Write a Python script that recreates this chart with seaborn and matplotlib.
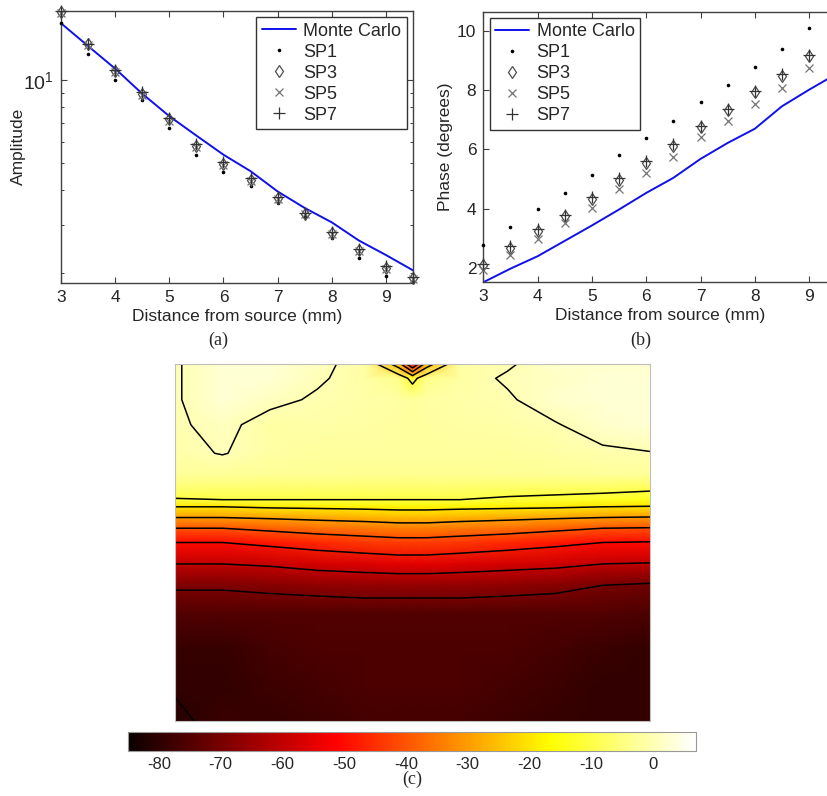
import numpy as np
import seaborn as sns
import matplotlib
matplotlib.use("Agg")
import matplotlib.pyplot as plt
from matplotlib.ticker import NullFormatter, LogLocator

# ------------------------------
# Data
# ------------------------------
distance = [3, 3.5, 4, 4.5, 5, 5.5, 6, 6.5, 7, 7.5, 8, 8.5, 9, 9.5]

# (a) amplitude
amp_mc = [16.11, 13.32, 11.03, 8.95, 7.42, 6.31, 5.38, 4.69, 3.96, 3.45, 3.06, 2.63, 2.33, 2.05]
amp_sp1 = [16.11, 12.43, 10.0, 8.48, 6.73, 5.38, 4.65, 4.13, 3.61, 3.22, 2.68, 2.27, 1.96, 1.86]
amp_sp3 = [17.70, 13.51, 10.81, 8.95, 7.22, 5.81, 4.99, 4.37, 3.75, 3.29, 2.80, 2.42, 2.09, 1.92]
amp_sp5 = [17.60, 13.40, 10.70, 8.85, 7.15, 5.75, 4.95, 4.33, 3.72, 3.27, 2.78, 2.40, 2.08, 1.91]
amp_sp7 = [17.80, 13.60, 10.90, 9.05, 7.30, 5.88, 5.05, 4.42, 3.79, 3.32, 2.83, 2.45, 2.12, 1.94]

# (b) phase (degrees)
ph_mc = [1.51, 1.97, 2.39, 2.91, 3.43, 3.97, 4.53, 5.04, 5.68, 6.22, 6.70, 7.46, 8.02, 8.55]
ph_sp1 = [2.78, 3.37, 3.97, 4.53, 5.13, 5.82, 6.39, 6.97, 7.62, 8.17, 8.80, 9.41, 10.10, 10.66]
ph_sp3 = [2.09, 2.68, 3.24, 3.74, 4.33, 4.98, 5.55, 6.13, 6.76, 7.32, 7.93, 8.50, 9.15, 9.72]
ph_sp5 = [1.92, 2.42, 2.98, 3.50, 4.03, 4.67, 5.21, 5.75, 6.41, 6.97, 7.54, 8.08, 8.76, 9.30]
ph_sp7 = [2.12, 2.75, 3.30, 3.80, 4.40, 5.04, 5.60, 6.18, 6.80, 7.36, 7.98, 8.55, 9.20, 9.78]

# (c) field in dB, lateral position x depth (fractions of the image)
lateral = [0, 0.1, 0.2, 0.3, 0.4, 0.47, 0.5, 0.53, 0.6, 0.7, 0.8, 0.9, 1.0]
depth = [0, 0.04, 0.10, 0.17, 0.25, 0.31, 0.35, 0.38, 0.40, 0.43, 0.46,
         0.50, 0.56, 0.62, 0.70, 0.80, 0.90, 1.0]
field_db = [
    [-0.5, 3, 3, 1, -1.5, -25, -50, -25, -1.5, -0.5, 2, 2, 2],
    [-0.5, 3, 3, 0.5, -1.5, -4, -13, -4, -1.5, 0.5, 1.5, 3, 3],
    [-0.5, 3, 1, -0.5, -1, -1.5, -2, -1.5, -1, -0.5, 2, 3, 3],
    [-0.5, 1.0, -1.5, -1.2, -1.5, -1.8, -2, -1.8, -1.5, -1, -0.3, 2, 3],
    [-1, 0.2, -1.5, -2, -2, -2.2, -2.3, -2.2, -2, -2, -1.5, -0.8, -0.2],
    [-2.5, -2.5, -3, -3, -3.2, -3.3, -3.3, -3.3, -3.2, -3, -3, -2.5, -2.5],
    [-6.5, -6.5, -7, -7, -7, -7, -7, -7, -7, -7.5, -7.5, -8, -9],
    [-10.5, -10, -10, -10, -10, -10, -10, -10, -10, -11, -12, -13, -14],
    [-20, -20, -19, -18.5, -18, -17.5, -17.5, -17.5, -18, -18.5, -19, -20, -20.5],
    [-30, -30, -29, -28, -27, -26, -26, -26, -27, -28, -29, -30, -30.5],
    [-40, -40, -38, -36, -35, -34, -34, -34, -35, -36, -38, -40, -40.5],
    [-50, -50, -48, -46, -44, -43, -43, -43, -44, -46, -48, -50, -50.5],
    [-60, -60, -59, -57, -56, -55, -55, -55, -56, -57, -58, -60, -60.5],
    [-69, -69, -68, -67, -66, -66, -66, -66, -66, -67, -68, -70, -71],
    [-75, -75, -75, -75, -75, -75, -75, -75, -75, -75, -75, -75, -76],
    [-79, -79, -77, -76, -76, -76, -76, -76, -76, -76, -77, -78.5, -79.5],
    [-79.5, -79.5, -78, -77, -76, -76, -76, -76, -76, -77, -78, -79.5, -79.5],
    [-81, -78.5, -79, -78, -77, -77, -77, -77, -77, -78, -79, -79.5, -79.5],
]
contour_levels = [-80, -70, -60, -50, -40, -30, -20, -10, 0]
cbar_ticks = [-80, -70, -60, -50, -40, -30, -20, -10, 0]

# ------------------------------
# Style
# ------------------------------
sns.set_style("ticks")
plt.rcParams["font.family"] = ["Liberation Sans", "DejaVu Sans"]
plt.rcParams["mathtext.fontset"] = "custom"
plt.rcParams["mathtext.rm"] = "Liberation Sans"
plt.rcParams["mathtext.it"] = "Liberation Sans"
plt.rcParams["xtick.direction"] = "in"
plt.rcParams["ytick.direction"] = "in"
plt.rcParams["axes.unicode_minus"] = False

fig = plt.figure(figsize=(8.27, 7.96), dpi=100)
ax_a = fig.add_axes([0.0738, 0.6449, 0.4256, 0.3413])
ax_b = fig.add_axes([0.5844, 0.6454, 0.4268, 0.3400])
ax_c = fig.add_axes([0.2116, 0.0942, 0.5744, 0.4485])
cax = fig.add_axes([0.1548, 0.0565, 0.6868, 0.0233])

edge = "0.25"
marker_kw = {
    "SP1": dict(marker="o", ms=2.6, color="black", mec="black", mew=0),
    "SP3": dict(marker="d", ms=6.5, color="0.3", mfc="none", mec="0.3", mew=0.9),
    "SP5": dict(marker="x", ms=5.5, color="0.45", mec="0.45", mew=0.9),
    "SP7": dict(marker="+", ms=8, color="0.2", mec="0.2", mew=0.9),
}


def draw_panel(ax, mc, series):
    sns.lineplot(x=distance, y=mc, ax=ax, color="#1010e8", lw=1.4, label="Monte Carlo")
    for name, vals in series:
        sns.lineplot(x=distance, y=vals, ax=ax, linestyle="none", label=name,
                     clip_on=False, zorder=3, **marker_kw[name])
    ax.set_xlabel("Distance from source (mm)", fontsize=12.5, labelpad=3)
    ax.tick_params(top=True, right=True, labelsize=12.5, length=4, width=0.8,
                   color=edge, pad=5)
    ax.tick_params(which="minor", top=True, right=True, length=2.5, width=0.7, color=edge)
    for sp in ax.spines.values():
        sp.set_color(edge)
        sp.set_linewidth(1.0)
    ax.set_xlim(3, 9.5)
    ax.set_xticks([3, 4, 5, 6, 7, 8, 9])


legend_kw = dict(fontsize=13, frameon=True, fancybox=False, framealpha=1,
                 edgecolor="0.2", borderaxespad=0.35, handlelength=1.9,
                 handletextpad=0.4, labelspacing=0.22, borderpad=0.3)

# (a)
draw_panel(ax_a, amp_mc, [("SP1", amp_sp1), ("SP3", amp_sp3), ("SP5", amp_sp5), ("SP7", amp_sp7)])
ax_a.set_yscale("log")
ax_a.set_ylim(1.85, 17.85)
ax_a.set_yticks([10])
ax_a.set_yticklabels(["$10^1$"], fontsize=14)
ax_a.yaxis.set_minor_locator(LogLocator(base=10, subs=np.arange(2, 10)))
ax_a.yaxis.set_minor_formatter(NullFormatter())
ax_a.set_ylabel("Amplitude", fontsize=12.5, labelpad=-2)
ax_a.legend(loc="upper right", **legend_kw)

# (b)
draw_panel(ax_b, ph_mc, [("SP1", ph_sp1), ("SP3", ph_sp3), ("SP5", ph_sp5), ("SP7", ph_sp7)])
ax_b.set_ylim(1.51, 10.66)
ax_b.set_yticks([2, 4, 6, 8, 10])
ax_b.set_ylabel("Phase (degrees)", fontsize=12.5, labelpad=3)
ax_b.legend(loc="upper left", **legend_kw)

# (c)
X, Y = np.meshgrid(lateral, depth)
Z = np.array(field_db)
mesh = ax_c.pcolormesh(X, Y, Z, cmap="hot", vmin=-85, vmax=7, shading="gouraud")
ax_c.contour(X, Y, Z, levels=contour_levels, colors="black", linewidths=1.1,
             linestyles="solid")
ax_c.set_xlim(0, 1)
ax_c.set_ylim(1, 0)
ax_c.set_xticks([])
ax_c.set_yticks([])
for sp in ax_c.spines.values():
    sp.set_color("0.75")
    sp.set_linewidth(0.8)

cbar = fig.colorbar(mesh, cax=cax, orientation="horizontal", ticks=cbar_ticks)
cbar.ax.tick_params(direction="in", top=True, bottom=True, length=5, width=0.8,
                    color="0.3", labelsize=12, pad=4)
cbar.outline.set_edgecolor("0.6")

# panel captions
serif = ["Liberation Serif", "DejaVu Serif"]
fig.text(218 / 827, 1 - 340 / 796, "(a)", ha="center", va="center", fontsize=13, family=serif)
fig.text(641 / 827, 1 - 340 / 796, "(b)", ha="center", va="center", fontsize=13, family=serif)
fig.text(412 / 827, 1 - 779 / 796, "(c)", ha="center", va="center", fontsize=13, family=serif)

fig.savefig("out.png", dpi=100)
